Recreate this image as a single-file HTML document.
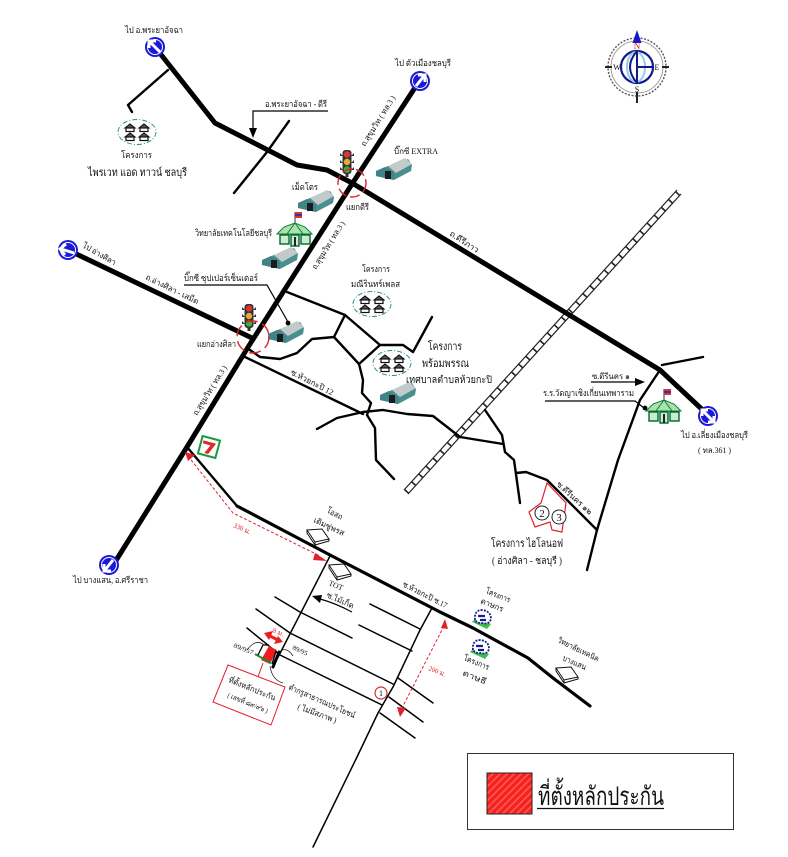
<!DOCTYPE html>
<html><head><meta charset="utf-8">
<style>
html,body{margin:0;padding:0;background:#fff;width:788px;height:857px;overflow:hidden}
svg{display:block}
text{font-family:"Liberation Serif","Noto Serif CJK SC",serif;fill:#111}
.r{fill:none;stroke:#000;stroke-linejoin:round;stroke-linecap:round}
.t{stroke-width:5}.m{stroke-width:2.4}.n{stroke-width:1.5}
.red{fill:none;stroke:#e0202a}
</style></head><body>
<svg width="788" height="857" viewBox="0 0 788 857" xmlns="http://www.w3.org/2000/svg">
<defs>
<pattern id="hatch" width="5" height="5" patternUnits="userSpaceOnUse" patternTransform="rotate(-45)">
<rect width="5" height="5" fill="#f52020"/><rect width="5" height="1.6" fill="#ff5a50"/>
</pattern>
<g id="sign"><circle r="10" fill="#1a1ad8"/><circle r="7.5" fill="none" stroke="#fff" stroke-width="1"/></g>
<g id="wh">
<path d="M-18 1 L-6 -4 L14 -11 L18 -5 L17 1 L0 10 L-18 6 Z" fill="#4b8e90"/>
<path d="M-6 -4 L11 -12 L18 -6 L2 3 Z" fill="#c2caca"/>
<path d="M-18 1 L-9 -3 L0 3 L0 10 L-18 6 Z" fill="#3f8588"/>
<rect x="-9" y="1" width="6" height="8" fill="#1c1c1c"/>
</g>
<g id="hs">
<ellipse cx="0" cy="0" rx="19" ry="12.5" fill="none" stroke="#2e8f8f" stroke-width="1" stroke-dasharray="5 2 1 2"/>
<g fill="#555" stroke="#111" stroke-width="1.1">
<path d="M-12 -4 l5 -4 l5 4 z"/><path d="M2 -4 l5 -4 l5 4 z"/>
<path d="M-12 5 l5 -4 l5 4 z"/><path d="M2 5 l5 -4 l5 4 z"/>
</g>
<g fill="#fff" stroke="#111" stroke-width="1.2">
<rect x="-11" y="-4" width="8" height="3.5"/><rect x="3" y="-4" width="8" height="3.5"/>
<rect x="-11" y="5" width="8" height="3.5"/><rect x="3" y="5" width="8" height="3.5"/>
</g>
</g>
<g id="sch">
<path d="M1 -12 V-23" stroke="#333" stroke-width="1"/>
<rect x="1" y="-23" width="7" height="2" fill="#d33"/><rect x="1" y="-21" width="7" height="2" fill="#33a"/><rect x="1" y="-19" width="7" height="2" fill="#d33"/>
<path d="M-17 -1 L-10 -8 L1 -12 L11 -8 L18 -1 Z" fill="#a9e3a9" stroke="#174" stroke-width="1"/>
<path d="M1 -12 L-7 -1 M1 -12 L9 -1" stroke="#174" stroke-width="1"/>
<g fill="#cdeccd" stroke="#063" stroke-width="1.4"><rect x="-14" y="0" width="9" height="9"/><rect x="-3" y="0" width="8" height="11"/><rect x="7" y="0" width="9" height="9"/></g>
<rect x="0" y="2" width="2" height="9" fill="#222"/>
</g>
<g id="tl">
<rect x="-4.5" y="-12" width="9" height="24" rx="3" fill="#333"/>
<path d="M-7 -9 l3 3 l-3 0z M7 -9 l-3 3 l3 0z M-7 -2 l3 3 l-3 0z M7 -2 l-3 3 l3 0z M-7 5 l3 3 l-3 0z M7 5 l-3 3 l3 0z" fill="#333"/>
<circle cy="-7.5" r="3.2" fill="#d33"/><circle cy="0" r="3.2" fill="#e8a83a"/><circle cy="7.5" r="3.2" fill="#3bb53b"/>
<rect x="-1.5" y="12" width="3" height="3" fill="#333"/>
</g>
<g id="box"><path d="M-11 -6 L4 -7 L11 3 L-3 6 Z M-11 -6 L-11 -3 L-3 9 L11 5 L11 3 M-3 6 L-3 9" fill="#fff" stroke="#111" stroke-width="1"/></g>
<g id="tree"><path d="M-10 3 L5 10 L9 5 L-6 -1Z" fill="#3bc04a"/><path d="M-7 1 Q-8 -9 0 -9 Q9 -8 9 0 Q7 6 1 4 Q-4 5 -7 1Z" fill="#fff" stroke="#1a1a90" stroke-width="1.8" stroke-dasharray="2 1.2"/><path d="M-4 -3 h7 M-2 1 h6" stroke="#1a1a90" stroke-width="2.2"/></g>
</defs>

<!-- rail -->
<g fill="none" stroke="#222">
<path d="M404 490 L677 190" stroke-width="1.2"/><path d="M408 494 L681 194" stroke-width="1.2"/>
<path d="M406 492 L679 192" stroke-width="5" stroke-dasharray="1.6 9"/>
</g>

<!-- thin/medium roads -->
<g class="r m">
<path d="M168 70 L128 105 L132 112"/>
<path d="M289 121 L267 152 L234 193"/>
<path d="M287 292 L345 315 L380 345 L403 345 L413 352 L432 317"/>
<path d="M345 315 L334 337 L359 364 L380 345"/>
<path d="M250 350 L260 357 L280 359 L297 353 L312 339 L334 337"/>
<path d="M245 357 L363 414"/>
<path d="M359 364 L363 380 L362 393 L371 403 L367 415 L375 428 L376 460 L394 479"/>
<path d="M317 429 L337 418 L363 412 L383 410 L407 414 L433 416 L460 437 L503 444"/>
<path d="M485 410 L502 435 L505 452 L514 460 L520 503"/>
<path d="M516 473 L526 472 L547 480 L597 530"/>
<path d="M660 370 L640 400 L618 460 L597 530 L587 570"/>
<path d="M662 365 L703 357"/>
<path d="M187 447 L215 480 L237 506"/>
</g>
<path class="r" stroke-width="3.2" d="M237 506 L330 555 L440 612 L473 628 L528 658 L553 678 L590 706"/>
<g class="r n">
<path d="M330 556 L273 667"/>
<path d="M432 608 L420 630 L393 687 L378 713 L357 757 L313 847"/>
<path d="M275 597 L300 612 L352 638"/>
<path d="M256 609 L290 633 L393 684"/>
<path d="M398 678 L433 703"/>
<path d="M247 628 L280 655 L382 705"/>
<path d="M389 697 L423 722"/>
<path d="M380 713 L415 738"/>
<path d="M370 604 L420 629"/>
<path d="M359 625 L412 651"/>
</g>
<path class="r" stroke-width="3" d="M279 652 L273 667"/>

<!-- main roads -->
<g class="r t">
<path d="M155 47 L215 123 L297 165 L327 170 L352 183 L660 370 L708 415"/>
<path d="M115 562 L187 447 L250 344 L352 184 L420 80"/>
<path d="M68 250 L252 338"/>
</g>

<!-- signs -->
<use href="#sign" x="155" y="47"/><path d="M150 42 L160 52 M149 48 L149 41 L156 41" stroke="#fff" stroke-width="3" fill="none"/>
<use href="#sign" x="420" y="81"/><path d="M416 86 L424 76 M418 75 L425 75 L425 82" stroke="#fff" stroke-width="3" fill="none"/>
<use href="#sign" x="68" y="250"/><path d="M61 249 L74 253 M66 244 L60 249 L65 255" stroke="#fff" stroke-width="3" fill="none"/>
<use href="#sign" x="109" y="565"/><path d="M113 560 L105 570 M104 564 L104 571 L111 571" stroke="#fff" stroke-width="3" fill="none"/>
<use href="#sign" x="708" y="416"/><path d="M702 410 L714 422 M702 416 L702 410 L708 410 M714 416 L714 422 L708 422" stroke="#fff" stroke-width="3" fill="none"/>

<!-- compass -->
<g transform="translate(637 67)">
<circle r="29" fill="none" stroke="#555" stroke-width="1.4" stroke-dasharray="2 1.5"/>
<circle r="26" fill="none" stroke="#888" stroke-width=".8"/>
<path d="M0 -37 L-4.5 -24 H4.5 Z" fill="#1616c8"/>
<path d="M-32 0 H-25 M25 0 H32 M0 25 V36" stroke="#222" stroke-width="2"/>
<circle r="16" fill="#fff" stroke="#121a90" stroke-width="2.2"/>
<ellipse cx="-1" rx="9" ry="15" fill="none" stroke="#9ac8e8" stroke-width="2"/>
<path d="M0 -16 V16 M0 0 H16 M0 -16 Q-14 0 0 16" stroke="#121a90" stroke-width="2" fill="none"/>
<text x="0" y="-18" font-size="9" text-anchor="middle" style="fill:#b22">N</text>
<text x="0" y="25" font-size="8" text-anchor="middle">S</text>
<text x="-20" y="3" font-size="8" text-anchor="middle">W</text>
<text x="20" y="3" font-size="8" text-anchor="middle">E</text>
</g>

<!-- icons -->
<use href="#hs" x="137" y="132"/>
<use href="#hs" x="372" y="304"/>
<use href="#hs" x="392" y="363"/>
<use href="#wh" x="394" y="170"/>
<use href="#wh" x="316" y="202"/>
<use href="#wh" x="280" y="259"/>
<use href="#wh" x="286" y="333"/>
<use href="#wh" x="398" y="394"/>
<use href="#sch" x="294" y="235"/>
<use href="#sch" x="663" y="412"/>
<use href="#tl" x="347" y="162"/>
<use href="#tl" x="249" y="316"/>
<circle cx="352" cy="183" r="14" class="red" stroke-width="1.4" stroke-dasharray="10 4"/>
<circle cx="253" cy="337" r="16" class="red" stroke-width="1.4" stroke-dasharray="12 5"/>

<!-- 7-11 -->
<g transform="translate(209 447) rotate(15)">
<rect x="-9" y="-9" width="18" height="18" fill="#fff" stroke="#1a9a3a" stroke-width="2"/>
<path d="M-7 -5 H6 L1 7 H-3 L1 -2 H-7Z" fill="#e02828"/>
</g>

<!-- leaders -->
<g fill="none" stroke="#000" stroke-width="1.2">
<path d="M328 111 H253 V130"/>
<path d="M184 285 H267 L288 322"/>
<path d="M545 401 H635 L644 408"/>
<path d="M591 382 H637"/>
</g>
<path d="M253 138 L249 128 H257Z"/>
<path d="M645 382 L635 378 V386Z"/>
<circle cx="288" cy="323" r="2.4"/>
<circle cx="645" cy="408" r="2.4"/>

<!-- red dashed arrows -->
<g fill="none" stroke="#e0202a" stroke-width="1" stroke-dasharray="3 2">
<path d="M188 456 L233 513 L320 556"/>
<path d="M444 626 L402 708"/>
</g>
<path d="M185 452 L195 455 L188 461Z M327 561 L315 553 L313 560Z M445 619 L441 628 L448 629Z M400 717 L397 707 L406 708Z" fill="#e0202a"/>
<text transform="translate(233 527) rotate(24)" font-size="7" textLength="18" lengthAdjust="spacingAndGlyphs" style="fill:#e0202a">330 ม.</text>
<text transform="translate(428 670) rotate(22)" font-size="7" textLength="18" lengthAdjust="spacingAndGlyphs" style="fill:#e0202a">200 ม.</text>

<!-- project polygons -->
<path d="M547 483 L566 503 L562 532 L552 530 L550 522 L535 527 L529 512 L541 503 Z" fill="none" stroke="#e0202a" stroke-width="1.2"/>
<circle cx="542" cy="513" r="7" fill="#fff" stroke="#222" stroke-width="1"/>
<circle cx="559" cy="517" r="7" fill="#fff" stroke="#222" stroke-width="1"/>
<text x="542" y="517" font-size="11" text-anchor="middle">2</text>
<text x="559" y="521" font-size="11" text-anchor="middle">3</text>

<circle cx="381" cy="693" r="6" fill="#fff" stroke="#c33" stroke-width="1.2"/>
<text x="381" y="696" font-size="8" text-anchor="middle">1</text>

<!-- small buildings -->
<use href="#box" x="318" y="536"/>
<use href="#box" x="340" y="571"/>
<use href="#box" x="567" y="674"/>
<use href="#tree" x="482" y="619"/>
<use href="#tree" x="480" y="649"/>
<path d="M352 612 Q335 603 320 599" fill="none" stroke="#000" stroke-width="1.2"/>
<path d="M312 596 L322 595 L320 603Z"/>

<!-- site detail -->
<path d="M261 660 L269 646 L277 650 L270 664Z" fill="#ee1c1c"/>
<path d="M255 654 L271 663" stroke="#1a8a3a" stroke-width="2"/>
<path d="M258 655 L263 645 H269 M276 651 L272 664" fill="none" stroke="#000" stroke-width="1.3"/>
<path d="M268 635 L280 641" stroke="#ee1c1c" stroke-width="3"/>
<path d="M264 633 L273 631 L269 640Z M283 642 L274 644 L278 636Z" fill="#ee1c1c"/>
<path d="M247 650 Q256 638 264 645 M282 650 Q288 648 293 656 M270 666 Q272 680 283 683" fill="none" stroke="#222" stroke-width=".8"/>
<path d="M263 663 L258 677" stroke="#e0202a" stroke-width="1"/>
<path d="M228 665 L285 687 L271 725 L213 702 Z" fill="#fff" stroke="#e0202a" stroke-width="1"/>

<!-- labels -->
<g font-size="9" lengthAdjust="spacingAndGlyphs">
<text x="125" y="33" textLength="58" lengthAdjust="spacingAndGlyphs">ไป อ.พระยาอัจฉา</text>
<text x="395" y="66" textLength="56" lengthAdjust="spacingAndGlyphs">ไป ตัวเมืองชลบุรี</text>
<text x="265" y="107" textLength="62" lengthAdjust="spacingAndGlyphs">อ.พระยาอัจฉา - ดีรี</text>
<text x="121" y="158" textLength="31" lengthAdjust="spacingAndGlyphs">โครงการ</text>
<text x="88" y="176" font-size="11" textLength="99" lengthAdjust="spacingAndGlyphs">ไพรเวท แอด ทาวน์ ชลบุรี</text>
<text x="394" y="154" font-size="8" textLength="44" lengthAdjust="spacingAndGlyphs">บิ๊กซี EXTRA</text>
<text x="292" y="190" textLength="26" lengthAdjust="spacingAndGlyphs">เม็ดโตร</text>
<text x="195" y="236" textLength="77" lengthAdjust="spacingAndGlyphs">วิทยาลัยเทคโนโลยีชลบุรี</text>
<text x="184" y="281" textLength="74" lengthAdjust="spacingAndGlyphs">บิ๊กซี ซุปเปอร์เซ็นเตอร์</text>
<text x="346" y="210" textLength="23" lengthAdjust="spacingAndGlyphs">แยกดีรี</text>
<text x="197" y="347" textLength="39" lengthAdjust="spacingAndGlyphs">แยกอ่างศิลา</text>
<text x="362" y="272" textLength="28" lengthAdjust="spacingAndGlyphs">โครงการ</text>
<text x="351" y="287" textLength="49" lengthAdjust="spacingAndGlyphs">มณีรินทร์เพลส</text>
<text x="428" y="350" font-size="11" textLength="34" lengthAdjust="spacingAndGlyphs">โครงการ</text>
<text x="422" y="367" font-size="11" textLength="47" lengthAdjust="spacingAndGlyphs">พร้อมพรรณ</text>
<text x="406" y="383" font-size="10" textLength="86" lengthAdjust="spacingAndGlyphs">เทศบาลตำบลห้วยกะปิ</text>
<text x="592" y="379" font-size="8" textLength="38" lengthAdjust="spacingAndGlyphs">ซ.ดีรีนคร ๑</text>
<text x="543" y="396" textLength="91" lengthAdjust="spacingAndGlyphs">ร.ร.วัดญาเชิงเกี่ยนเทพาราม</text>
<text x="681" y="438" textLength="67" lengthAdjust="spacingAndGlyphs">ไป อ.เลี่ยงเมืองชลบุรี</text>
<text x="698" y="453" font-size="8" textLength="33" lengthAdjust="spacingAndGlyphs">( ทล.361 )</text>
<text x="491" y="547" font-size="11" textLength="72" lengthAdjust="spacingAndGlyphs">โครงการ ไฮโลนอฟ</text>
<text x="492" y="564" font-size="10" textLength="70" lengthAdjust="spacingAndGlyphs">( อ่างศิลา - ชลบุรี )</text>
<text x="73" y="583" textLength="75" lengthAdjust="spacingAndGlyphs">ไป บางแสน, อ.ศรีราชา</text>
</g>
<g font-size="8" style="fill:#333">
<text transform="translate(365 147) rotate(-58)" textLength="58" lengthAdjust="spacingAndGlyphs">ถ.สุขุมวิท ( ทล.3 )</text>
<text transform="translate(316 270) rotate(-58)" textLength="55" lengthAdjust="spacingAndGlyphs">ถ.สุขุมวิท ( ทล.3 )</text>
<text transform="translate(197 416) rotate(-58)" textLength="57" lengthAdjust="spacingAndGlyphs">ถ.สุขุมวิท ( ทล.3 )</text>
<text transform="translate(82 247) rotate(30)" textLength="37" lengthAdjust="spacingAndGlyphs">ไป อ่างศิลา</text>
<text transform="translate(145 279) rotate(26)" textLength="58" lengthAdjust="spacingAndGlyphs">ถ.อ่างศิลา - เสม็ด</text>
<text transform="translate(449 235) rotate(33)" textLength="33" lengthAdjust="spacingAndGlyphs">ถ.ดีรีภาว</text>
<text transform="translate(290 374) rotate(27)" textLength="47" lengthAdjust="spacingAndGlyphs">ซ.ห้วยกะปิ 12</text>
<text transform="translate(556 485) rotate(42)" textLength="45" lengthAdjust="spacingAndGlyphs">ซ.ดีรีนคร ๑๒</text>
<text transform="translate(402 586) rotate(27)" textLength="49" lengthAdjust="spacingAndGlyphs">ซ.ห้วยกะปิ ซ.17</text>
<text transform="translate(326 512) rotate(28)" textLength="17" lengthAdjust="spacingAndGlyphs">โอสถ</text>
<text transform="translate(313 522) rotate(25)" textLength="33" lengthAdjust="spacingAndGlyphs">เดิมซู่พรส</text>
<text transform="translate(328 585) rotate(22)" textLength="15" lengthAdjust="spacingAndGlyphs">TOT</text>
<text transform="translate(326 597) rotate(24)" textLength="29" lengthAdjust="spacingAndGlyphs">ซ.ไม้เก็ด</text>
<text transform="translate(485 593) rotate(22)" textLength="26" lengthAdjust="spacingAndGlyphs">โครงการ</text>
<text transform="translate(480 603) rotate(22)" textLength="24" lengthAdjust="spacingAndGlyphs">ดาษกร</text>
<text transform="translate(463 660) rotate(22)" textLength="27" lengthAdjust="spacingAndGlyphs">โครงการ</text>
<text transform="translate(462 675) rotate(22)" textLength="25" lengthAdjust="spacingAndGlyphs">ดาษธี</text>
<text transform="translate(557 642) rotate(26)" textLength="45" lengthAdjust="spacingAndGlyphs">วิทยาลัยเทคนิค</text>
<text transform="translate(562 660) rotate(24)" textLength="25" lengthAdjust="spacingAndGlyphs">บางแสน</text>
<text transform="translate(233 647) rotate(22)" font-size="6.5" textLength="21" lengthAdjust="spacingAndGlyphs">89/957</text>
<text transform="translate(292 649) rotate(25)" font-size="6.5" textLength="16" lengthAdjust="spacingAndGlyphs">89/95</text>
<text transform="translate(288 689) rotate(24)" textLength="72" lengthAdjust="spacingAndGlyphs">ตำกรูสาธารณประโยชน์</text>
<text transform="translate(297 709) rotate(20)" textLength="41" lengthAdjust="spacingAndGlyphs">( ไม่มีสภาพ )</text>
<text transform="translate(228 682) rotate(22)" textLength="50" lengthAdjust="spacingAndGlyphs">ที่ตั้งหลักประกัน</text>
<text transform="translate(227 697) rotate(22)" font-size="7" textLength="43" lengthAdjust="spacingAndGlyphs">( เลขที่ ๘๙/๙๖ )</text>
<text transform="translate(272 632) rotate(22)" font-size="6.5" textLength="12" lengthAdjust="spacingAndGlyphs" style="fill:#e0202a">8 ม.</text>
</g>

<!-- legend -->
<rect x="467.5" y="753.5" width="266" height="76" fill="#fff" stroke="#333" stroke-width="1"/>
<rect x="487" y="773" width="45" height="41" fill="url(#hatch)" stroke="#222" stroke-width="1"/>
<text x="538" y="805" font-size="26" textLength="126" lengthAdjust="spacingAndGlyphs">ที่ตั้งหลักประกัน</text>
<path d="M537 808.5 H664" stroke="#111" stroke-width="1.2"/>
</svg>
</body></html>
